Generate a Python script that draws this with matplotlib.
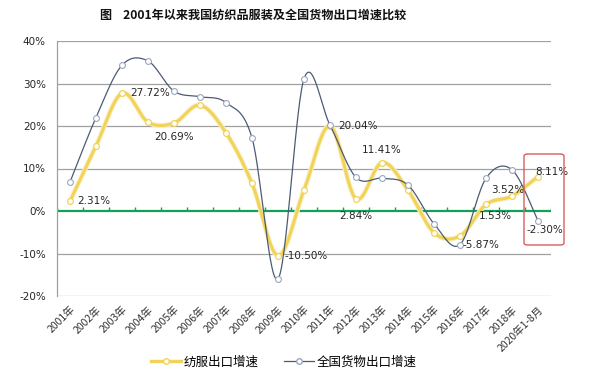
import numpy as np
import matplotlib
matplotlib.use("Agg")
import matplotlib.pyplot as plt
from matplotlib.lines import Line2D
from matplotlib.patches import FancyBboxPatch

plt.rcParams['font.family'] = ['Noto Sans CJK SC', 'DejaVu Sans']

categories = ["2001年", "2002年", "2003年", "2004年", "2005年", "2006年", "2007年",
              "2008年", "2009年", "2010年", "2011年", "2012年", "2013年", "2014年",
              "2015年", "2016年", "2017年", "2018年", "2020年1-8月"]
textile = [2.31, 15.3, 27.72, 20.9, 20.69, 24.9, 18.4, 6.5, -10.50, 4.9, 20.04,
           2.84, 11.41, 4.9, -5.1, -5.87, 1.53, 3.52, 8.11]
national = [6.8, 22.0, 34.3, 35.3, 28.2, 26.9, 25.5, 17.2, -16.0, 31.1, 20.2,
            7.9, 7.7, 6.1, -3.0, -7.9, 7.7, 9.7, -2.30]
series_names = ["纺服出口增速", "全国货物出口增速"]
yticks = [-20, -10, 0, 10, 20, 30, 40]
title = "图    2001年以来我国纺织品服装及全国货物出口增速比较"

YEL = "#F1D35A"
YEL_GLOW = "#FBF0C4"
BLU = "#4B5B73"
GRID = "#A0A0A0"
GREEN = "#12A05A"
TXT = "#262626"


def smooth(y, n=30):
    y = np.asarray(y, float)
    x = np.arange(len(y), dtype=float)
    P = np.column_stack([x, y])
    out = []
    for i in range(len(P) - 1):
        p0 = P[i - 1] if i > 0 else P[i]
        p1 = P[i]
        p2 = P[i + 1]
        p3 = P[i + 2] if i + 2 < len(P) else P[i + 1]
        b1 = p1 + (p2 - p0) / 6.0
        b2 = p2 - (p3 - p1) / 6.0
        t = np.linspace(0, 1, n, endpoint=(i == len(P) - 2))[:, None]
        seg = ((1 - t) ** 3) * p1 + 3 * ((1 - t) ** 2) * t * b1 + 3 * (1 - t) * t ** 2 * b2 + t ** 3 * p2
        out.append(seg)
    out = np.vstack(out)
    return out[:, 0], out[:, 1]


fig = plt.figure(figsize=(5.91, 3.83), dpi=100)
ax = fig.add_axes([57 / 591, 1 - 296 / 383, (551 - 57) / 591, (296 - 41) / 383])
ax.set_xlim(-0.5, len(categories) - 0.5)
ax.set_ylim(-20, 40)

for v in yticks:
    if v != 0:
        ax.axhline(v, color=GRID, lw=0.9, zorder=1)
ax.axhline(0, color=GREEN, lw=1.6, zorder=2)
for k in range(len(categories) + 1):
    ax.plot([k - 0.5, k - 0.5], [0, 1.0], color=GREEN, lw=1.0, zorder=2, solid_capstyle='butt')

for s in ['top', 'right', 'bottom']:
    ax.spines[s].set_visible(False)
ax.spines['left'].set_color(GRID)
ax.spines['left'].set_linewidth(0.9)

x = np.arange(len(categories))
# national
sx, sy = smooth(national)
ax.plot(sx, sy, color=BLU, lw=0.9, zorder=4)
ax.plot(x, national, ls='none', marker='o', ms=4.2, mfc='white', mec='#9AA6C0', mew=0.8, zorder=5)
# textile
tx, ty = smooth(textile)
ax.plot(tx, ty, color=YEL_GLOW, lw=3.6, zorder=3, solid_capstyle='round')
ax.plot(tx, ty, color=YEL, lw=2.2, zorder=3, solid_capstyle='round')
ax.plot(x, textile, ls='none', marker='o', ms=4.2, mfc='white', mec=YEL, mew=0.9, zorder=3.5)

ax.set_yticks(yticks)
ax.set_yticklabels([f"{v}%" for v in yticks], fontsize=7.5, color=TXT, family='DejaVu Sans')
ax.tick_params(axis='y', length=0, pad=8)
ax.set_xticks(x)
ax.set_xticklabels(categories, rotation=45, ha='right', va='top', rotation_mode='anchor',
                   fontsize=7.5, color='#333333')
ax.tick_params(axis='x', length=0, pad=6)

# data labels
lab_kw = dict(fontsize=7.5, color=TXT, family='DejaVu Sans', zorder=6)
def lab(i, val, dx, dy, ha='left', va='center'):
    ax.annotate(f"{val:.2f}%", (i, val), xytext=(dx, dy), textcoords='offset points',
                ha=ha, va=va, **lab_kw)

lab(0, textile[0], 5, 0)
lab(2, textile[2], 6, 0)
lab(4, textile[4], 0, -10, ha='center')
lab(8, textile[8], 5, 0)
lab(10, textile[10], 6, 0)
lab(12, textile[12], 0, 9, ha='center')
lab(11, textile[11], 0, -12, ha='center')
ax.annotate("-5.87%", (15, national[15]), xytext=(2, 0), textcoords='offset points',
            ha='left', va='center', **lab_kw)
lab(16, textile[16], 7, -8, ha='center')
lab(17, textile[17], -3, 4, ha='center')
lab(18, textile[18], -2, 3)
lab(18, national[18], -8, -7)

# red box
box = FancyBboxPatch((524 / 591, 1 - 245 / 383), 40 / 591, 91 / 383,
                     boxstyle="round,pad=0,rounding_size=0.006", transform=fig.transFigure,
                     fill=False, ec="#D65F5C", lw=1.0, zorder=10)
fig.patches.append(box)

fig.text(0.428, 1 - 15 / 383, title, ha='center', va='center', fontsize=8.7,
         fontweight='bold', color='#111111')

handles = [Line2D([], [], color=YEL, lw=2.4, marker='o', ms=4, mfc='white', mec=YEL),
           Line2D([], [], color=BLU, lw=0.9, marker='o', ms=4, mfc='white', mec='#9AA6C0')]
fig.legend(handles, series_names, loc='center', bbox_to_anchor=(0.48, 1 - 362 / 383), ncol=2,
           frameon=False, fontsize=9, handlelength=2.4, columnspacing=2.0, handletextpad=0.2)

fig.savefig("out.png", dpi=100, facecolor='white')
